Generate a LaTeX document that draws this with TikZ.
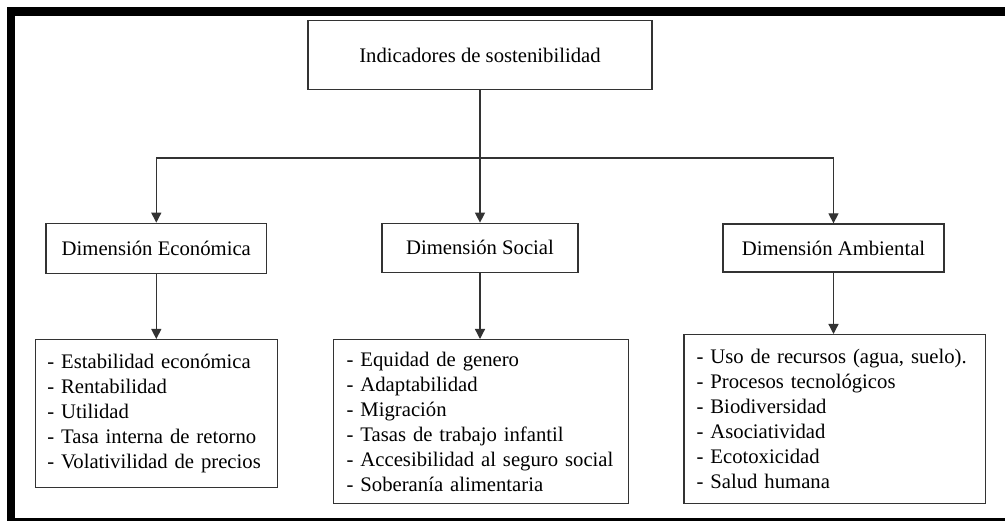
\documentclass[tikz,border=0pt]{standalone}
\usepackage{fontspec}
\setmainfont{Liberation Serif}
\usetikzlibrary{arrows.meta}
\begin{document}
\begin{tikzpicture}[x=1pt,y=-1pt,
  txt/.style={font=\fontsize{20.7}{25}\selectfont, text=black},
  box/.style={txt, draw=black!80, line width=1.3pt, inner sep=0pt},
  listbox/.style={box, align=left, anchor=north west},
  link/.style={draw=black!80, line width=1.3pt},
  arrow/.style={link, -{Triangle[width=10pt,length=10pt]}}]
\useasboundingbox (0,0) rectangle (1005,521);
% heavy outer frame, running off the right and bottom edges
\begin{scope}
  \clip (0,0) rectangle (1005,521);
  \draw[line width=8.5pt] (11,11.4) rectangle (1012,522.4);
\end{scope}

% title and the three dimensions
\node[box, minimum width=344pt, minimum height=68.6pt] (top) at (480,55) {Indicadores de sostenibilidad};
\node[box, minimum width=220.7pt, minimum height=50pt] (eco) at (156.3,248.3) {Dimensión Económica};
\node[box, minimum width=196pt, minimum height=49pt] (soc) at (480,247.8) {Dimensión Social};
\node[box, minimum width=221pt, minimum height=48pt] (amb) at (833.5,248) {Dimensión Ambiental};

% indicator lists
\node[listbox, text width=218.3pt, inner xsep=11.7pt, minimum height=148pt] (ecolist) at (35,339)
  {- Estabilidad económica\\- Rentabilidad\\- Utilidad\\- Tasa interna de retorno\\- Volativilidad de precios};
\node[listbox, text width=268.4pt, inner xsep=13.3pt, minimum height=164pt] (soclist) at (332.7,339)
  {- Equidad de genero\\- Adaptabilidad\\- Migración\\- Tasas de trabajo infantil\\- Accesibilidad al seguro social\\- Soberanía alimentaria};
\node[listbox, text width=276.3pt, inner xsep=12.7pt, minimum height=169pt] (amblist) at (683.3,334)
  {- Uso de recursos (agua, suelo).\\- Procesos tecnológicos\\- Biodiversidad\\- Asociatividad\\- Ecotoxicidad\\- Salud humana};

% connectors
\coordinate (split) at (480,158);
\draw[arrow] (top.south) -- (soc.north);
\draw[arrow] (split) -| (eco.north);
\draw[arrow] (split) -| (amb.north);
\draw[arrow] (eco.south) -- (eco.south |- ecolist.north);
\draw[arrow] (soc.south) -- (soc.south |- soclist.north);
\draw[arrow] (amb.south) -- (amb.south |- amblist.north);
\end{tikzpicture}
\end{document}
